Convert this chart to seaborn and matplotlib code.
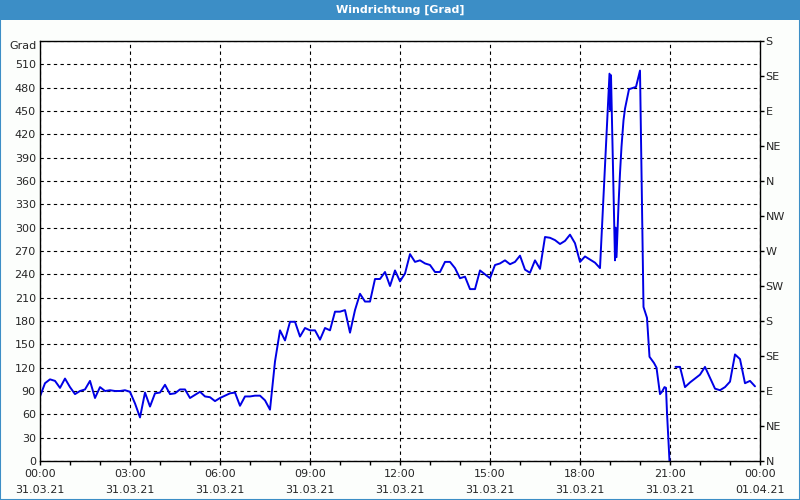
import matplotlib
matplotlib.use("Agg")
import matplotlib.pyplot as plt
import matplotlib.patches as mpatches
import numpy as np
import pandas as pd
import seaborn as sns

# minutes since 31.03.21 00:00, wind direction in degrees
minutes_a = [0, 10, 20, 30, 40, 50, 60, 70, 80, 90, 100, 110, 120, 130, 140, 150, 160, 170,
             180, 190, 200, 210, 220, 230, 240, 250, 260, 270, 280, 290, 300, 310, 320, 330,
             340, 350, 360, 370, 380, 390, 400, 410, 420, 430, 440, 450, 460, 470, 480, 490,
             500, 510, 520, 530, 540, 550, 560, 570, 580, 590, 600, 610, 620, 630, 640, 650,
             660, 670, 680, 690, 700, 710, 720, 730, 740, 750, 760, 770, 780, 790, 800, 810,
             820, 830, 840, 850, 860, 870, 880, 890, 900, 910, 920, 930, 940, 950, 960, 970,
             980, 990, 1000, 1010, 1020, 1030, 1040, 1050, 1060, 1070, 1080, 1090, 1100, 1110,
             1120, 1139, 1141, 1142, 1150, 1151, 1153, 1157, 1160, 1163, 1167, 1170, 1178,
             1192, 1200, 1207, 1214, 1219, 1228, 1233, 1240, 1244, 1249, 1252, 1254, 1259]
values_a = [83, 100, 105, 103, 94, 106, 95, 86, 90, 92, 103, 81, 95, 90, 91, 90, 90, 91,
            89, 74, 56, 88, 70, 87, 88, 98, 86, 87, 92, 92, 81, 85, 89, 83,
            82, 77, 81, 84, 87, 88, 71, 83, 83, 84, 84, 78, 66, 128, 168, 155,
            179, 179, 160, 171, 168, 168, 156, 171, 168, 192, 192, 194, 165, 194, 215, 205,
            205, 234, 234, 243, 225, 245, 231, 241, 266, 256, 258, 254, 252, 243, 243, 256,
            256, 248, 235, 237, 221, 221, 245, 240, 235, 252, 254, 258, 253, 256, 264, 246,
            242, 258, 247, 288, 287, 284, 279, 283, 291, 280, 256, 263, 259, 255,
            248, 498, 451, 496, 258, 300, 262, 329, 370, 404, 438, 453, 478,
            481, 502, 198, 184, 134, 126, 120, 86, 89, 95, 94, 62, 0]

minutes_b = [1271, 1280, 1290, 1300, 1310, 1320, 1330, 1340, 1350, 1360, 1370, 1380,
             1390, 1400, 1410, 1420, 1430]
values_b = [121, 121, 95, 101, 106, 111, 121, 107, 93, 91, 95, 102,
            137, 131, 100, 103, 96]

x_tick_labels = ["00:00\n31.03.21", "03:00\n31.03.21", "06:00\n31.03.21", "09:00\n31.03.21",
                 "12:00\n31.03.21", "15:00\n31.03.21", "18:00\n31.03.21", "21:00\n31.03.21",
                 "00:00\n01.04.21"]
compass_labels = ["N", "NE", "E", "SE", "S", "SW", "W", "NW", "N", "NE", "E", "SE", "S"]

df = pd.DataFrame({
    "hours": np.array(minutes_a + minutes_b) / 60.0,
    "deg": values_a + values_b,
    "seg": ["a"] * len(minutes_a) + ["b"] * len(minutes_b),
})

sns.set_style("white")
plt.rcParams["font.family"] = ["DejaVu Sans"]

fig = plt.figure(figsize=(8, 5), dpi=100)
fig.patch.set_facecolor("#fcfefc")
ax = fig.add_axes([0.05, 0.078, 0.90, 0.84])
ax.set_facecolor("white")

sns.lineplot(data=df, x="hours", y="deg", units="seg", estimator=None,
             color="#0000e6", linewidth=1.4, ax=ax, legend=False)

ax.set_xlim(0, 24)
ax.set_ylim(0, 540)
ax.set_xticks(np.arange(0, 25, 3))
ax.set_xticklabels(x_tick_labels, fontsize=8, linespacing=1.75)
ax.set_xticks(np.arange(0, 25, 1), minor=True)
ax.set_yticks(np.arange(0, 541, 30))
ax.set_yticklabels([str(v) if v < 540 else "" for v in range(0, 541, 30)], fontsize=8)
ax.tick_params(axis="x", which="both", direction="out", length=3, width=1,
               color="black", pad=3, bottom=True)
ax.tick_params(axis="y", length=0, pad=3)
ax.set_xlabel("")
ax.set_ylabel("")
ax.grid(True, which="major", color="black", linestyle=(0, (3, 3)), linewidth=0.8)
for s in ax.spines.values():
    s.set_color("black")
    s.set_linewidth(1)
    s.set_visible(True)

ax2 = ax.twinx()
ax2.set_ylim(0, 540)
ax2.set_yticks(np.arange(0, 541, 45))
ax2.set_yticklabels(compass_labels, fontsize=8)
ax2.tick_params(axis="y", direction="out", length=3, width=1, color="black", pad=1, right=True)
ax2.grid(False)
for s in ax2.spines.values():
    s.set_visible(False)

ax.text(-0.005, 0.989, "Grad", transform=ax.transAxes, ha="right", va="center", fontsize=8)

# title bar
fig.patches.append(mpatches.Rectangle((0, 0.96), 1, 0.04, transform=fig.transFigure,
                                      facecolor="#3c8ec6", edgecolor="none", zorder=0))
fig.patches.append(mpatches.Rectangle((0.0006, 0.001), 0.9988, 0.998, transform=fig.transFigure,
                                      facecolor="none", edgecolor="#3c8ec6", linewidth=1.5, zorder=5))
fig.text(0.5, 0.98, "Windrichtung [Grad]", ha="center", va="center", color="white",
         fontsize=8, fontweight="bold")

fig.savefig("out.png", dpi=100, facecolor=fig.get_facecolor())
